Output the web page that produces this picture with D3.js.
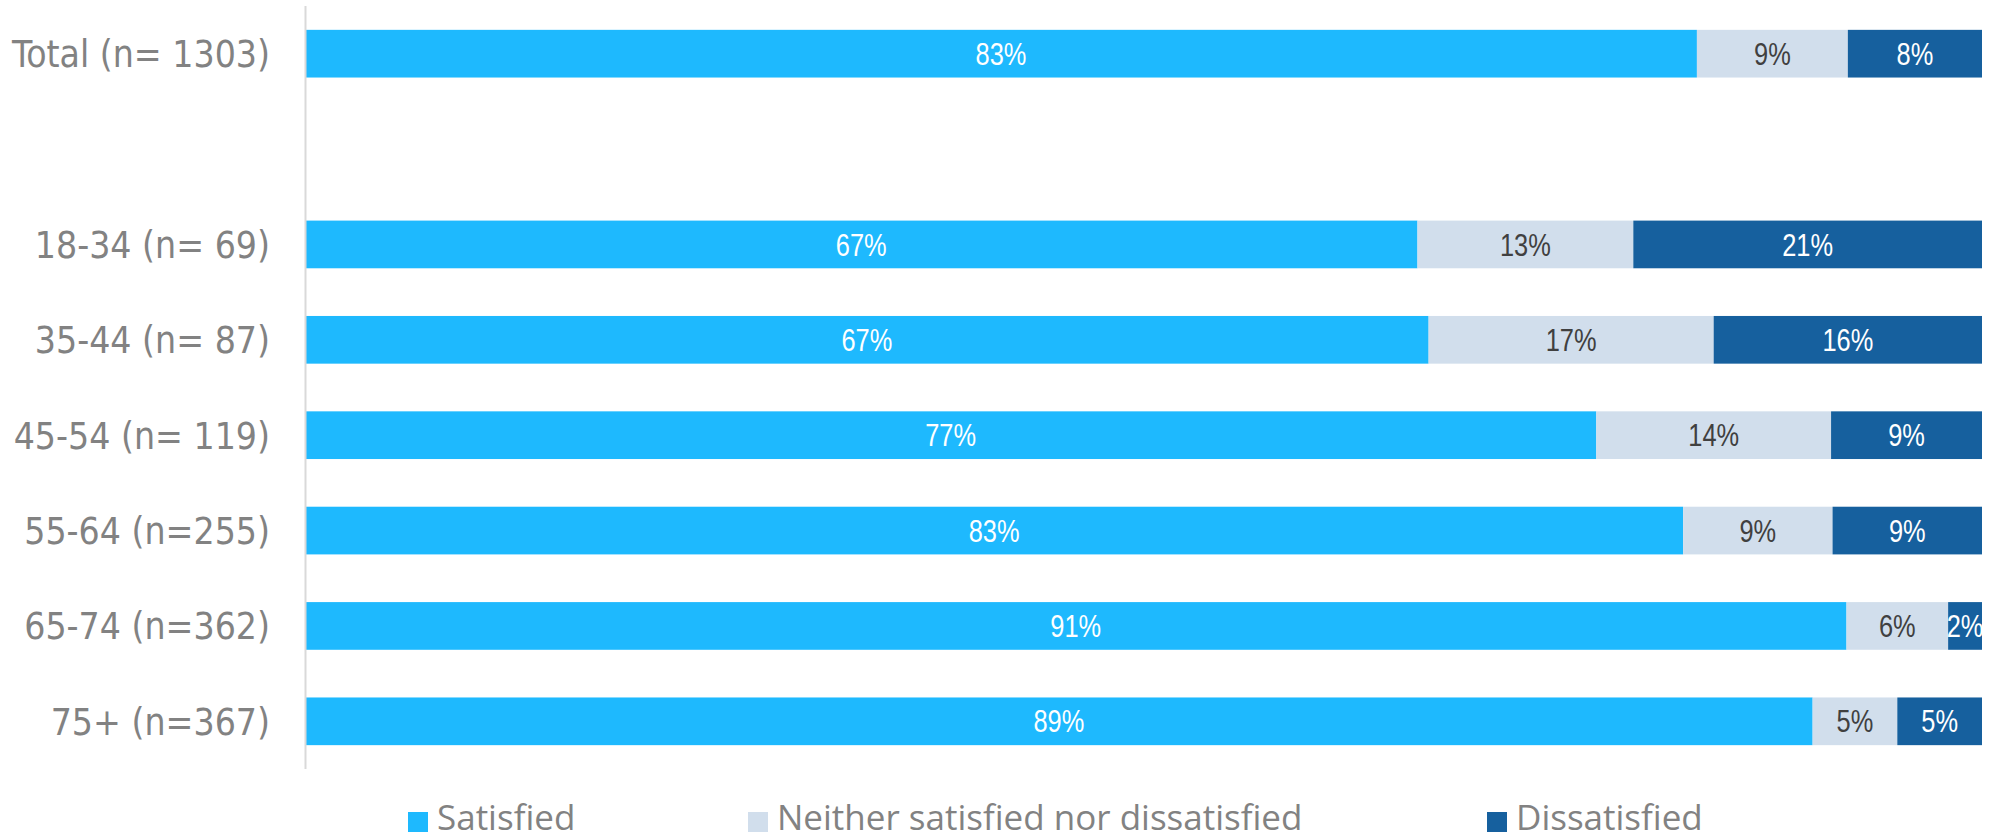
<!DOCTYPE html>
<html>
<head>
<meta charset="utf-8">
<script src="https://cdn.jsdelivr.net/npm/d3@7"></script>
<style>
  body { margin: 0; background: #fff; }
  .cat { font-family: "DejaVu Sans Condensed", "DejaVu Sans"; font-stretch: condensed; font-size: 37px; fill: #828282; }
  .val { font-family: "Liberation Sans", Arial; font-size: 31px; }
  .leg { font-family: "Open Sans"; font-size: 35px; fill: #828282; }
</style>
</head>
<body>
<svg id="chart" width="1992" height="839"></svg>
<script>
  // rows, with a blank slot between Total and the age groups
  var categories = ['Total (n= 1303)', '', '18-34 (n= 69)', '35-44 (n= 87)', '45-54 (n= 119)',
                    '55-64 (n=255)', '65-74 (n=362)', '75+ (n=367)'];

  var seriesNames = ['Satisfied', 'Neither satisfied nor dissatisfied', 'Dissatisfied'];

  var satisfied    = [83, null, 67, 67, 77, 83, 91, 89],
      neither      = [9,  null, 13, 17, 14, 9,  6,  5],
      dissatisfied = [8,  null, 21, 16, 9,  9,  2,  5];

  var COLORS = ['#1EB9FE', '#D1DEEC', '#16609E'],
      TEXT_COLORS = ['#ffffff', '#404040', '#ffffff'];

  var svg = d3.select('#chart'),

      x = d3.scaleLinear().domain([0, 1]).range([305, 1982]),

      y = d3.scaleBand()
        .domain(d3.range(categories.length))
        .range([6, 769])
        .paddingInner(0.5)
        .paddingOuter(0.25),

      rows = categories.map(function(c, i) {
        return { cat: c, i: i, vals: [satisfied[i], neither[i], dissatisfied[i]] };
      }).filter(function(r) { return r.cat !== ''; });

  // segments are shown as share of row total (100% stacked)
  rows.forEach(function(r) {
    var sum = d3.sum(r.vals), acc = 0;
    r.segs = r.vals.map(function(v, k) {
      var s = { k: k, v: v, x0: acc / sum, x1: (acc + v) / sum };
      acc += v;
      return s;
    });
  });

  var row = svg.selectAll('.row')
    .data(rows)
    .enter().append('g')
      .attr('class', 'row')
      .attr('transform', function(d) { return 'translate(0,' + y(d.i) + ')'; });

  row.selectAll('rect')
    .data(function(d) { return d.segs; })
    .enter().append('rect')
      .attr('x', function(d) { return x(d.x0); })
      .attr('width', function(d) { return x(d.x1) - x(d.x0); })
      .attr('y', 0)
      .attr('height', y.bandwidth())
      .attr('fill', function(d) { return COLORS[d.k]; });

  // narrow labels: no narrow face installed, so squeeze horizontally
  row.selectAll('text.val')
    .data(function(d) { return d.segs; })
    .enter().append('text')
      .attr('class', 'val')
      .attr('transform', function(d) {
        return 'translate(' + (x(d.x0) + x(d.x1)) / 2 + ',' + y.bandwidth() / 2 + ') scale(0.82,1)';
      })
      .attr('dy', '0.36em')
      .attr('text-anchor', 'middle')
      .attr('fill', function(d) { return TEXT_COLORS[d.k]; })
      .text(function(d) { return d.v + '%'; });

  row.append('text')
    .attr('class', 'cat')
    .attr('x', 270)
    .attr('y', y.bandwidth() / 2)
    .attr('dy', '0.36em')
    .attr('text-anchor', 'end')
    .text(function(d) { return d.cat; });

  // vertical axis line
  svg.append('line')
    .attr('x1', 305.5).attr('x2', 305.5)
    .attr('y1', 6).attr('y2', 769)
    .attr('stroke', '#D9D9D9')
    .attr('stroke-width', 2);

  // legend
  var legendX = [408, 748, 1487];

  var legend = svg.selectAll('.legend')
    .data(seriesNames)
    .enter().append('g')
      .attr('class', 'legend')
      .attr('transform', function(d, i) { return 'translate(' + legendX[i] + ',812)'; });

  legend.append('rect')
    .attr('width', 20)
    .attr('height', 20)
    .attr('fill', function(d, i) { return COLORS[i]; });

  legend.append('text')
    .attr('class', 'leg')
    .attr('x', 29)
    .attr('y', 18)
    .text(function(d) { return d; });
</script>
</body>
</html>
